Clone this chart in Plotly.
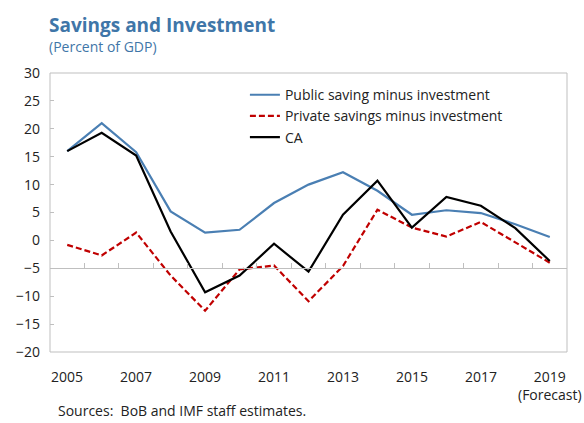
import plotly.graph_objects as go

years = list(range(2005, 2020))
public = [16.0, 21.0, 15.8, 5.2, 1.4, 1.9, 6.7, 10.0, 12.2, 8.9, 4.6, 5.4, 4.9, 2.9, 0.6]
private = [-0.8, -2.7, 1.4, -6.3, -12.6, -5.2, -4.5, -10.9, -4.6, 5.5, 2.3, 0.7, 3.3, -0.4, -4.0]
ca = [16.0, 19.3, 15.2, 1.6, -9.3, -6.3, -0.6, -5.6, 4.6, 10.7, 2.3, 7.8, 6.2, 2.2, -3.7]

tick_years = [2005, 2007, 2009, 2011, 2013, 2015, 2017, 2019]
tick_text = ["2005", "2007", "2009", "2011", "2013", "2015", "2017", "2019<br>(Forecast)"]

FONT = "Open Sans"
BLUE = "#4a7fb3"
RED = "#c00000"
GRID = "#bfbfbf"
TXT = "#222222"

fig = go.Figure()
fig.add_trace(go.Scatter(x=years, y=public, mode="lines", name="Public saving minus investment",
                         line=dict(color=BLUE, width=2.2)))
fig.add_trace(go.Scatter(x=years, y=private, mode="lines", name="Private savings minus investment",
                         line=dict(color=RED, width=2.2, dash="6px,3px")))
fig.add_trace(go.Scatter(x=years, y=ca, mode="lines", name="CA",
                         line=dict(color="black", width=2.2)))

xr = [2004.5, 2019.5]
yr = [-20, 30]
axis_level = -5
pos = (axis_level - yr[0]) / (yr[1] - yr[0])

annotations = [
    dict(text="<b>Savings and Investment</b>", xref="paper", yref="paper", x=-0.006, y=1.172,
         xanchor="left", yanchor="middle", showarrow=False, font=dict(size=19, color="#3f76a8")),
    dict(text="(Percent of GDP)", xref="paper", yref="paper", x=-0.006, y=1.094,
         xanchor="left", yanchor="middle", showarrow=False, font=dict(size=14, color="#3f76a8")),
    dict(text="Sources:  BoB and IMF staff estimates.", xref="paper", yref="paper", x=0.012, y=-0.21,
         xanchor="left", yanchor="middle", showarrow=False, font=dict(size=14, color=TXT)),
]
for yv, tt in zip(tick_years, tick_text):
    annotations.append(dict(text=tt, xref="x", yref="paper", x=yv, y=-0.046, xanchor="center",
                            yanchor="top", showarrow=False, font=dict(size=14, color=TXT)))

fig.update_layout(
    width=584, height=423,
    margin=dict(l=50, r=17, t=73, b=71),
    paper_bgcolor="white", plot_bgcolor="white",
    font=dict(family=FONT, size=14, color=TXT),
    showlegend=True,
    legend=dict(x=0.377, y=0.978, xanchor="left", yanchor="top", bgcolor="rgba(0,0,0,0)",
                font=dict(size=14), tracegroupgap=0),
    xaxis=dict(range=xr, anchor="free", position=pos, showgrid=False, zeroline=False,
               showline=True, linecolor=GRID, linewidth=1,
               ticks="inside", ticklen=5, tickcolor=GRID, tick0=2004.5, dtick=1,
               showticklabels=False),
    yaxis=dict(range=yr, dtick=5, showgrid=False, zeroline=False, showline=False,
               ticks="inside", ticklen=4, tickcolor=GRID, ticklabelstandoff=9,
               tickfont=dict(size=14)),
    shapes=[dict(type="rect", xref="paper", yref="paper", x0=0, x1=1, y0=0, y1=1,
                 line=dict(color=GRID, width=1), layer="below")],
    annotations=annotations,
)

fig.write_html("out.html", config={"displayModeBar": False},
               post_script="document.body.style.margin='0px';")
